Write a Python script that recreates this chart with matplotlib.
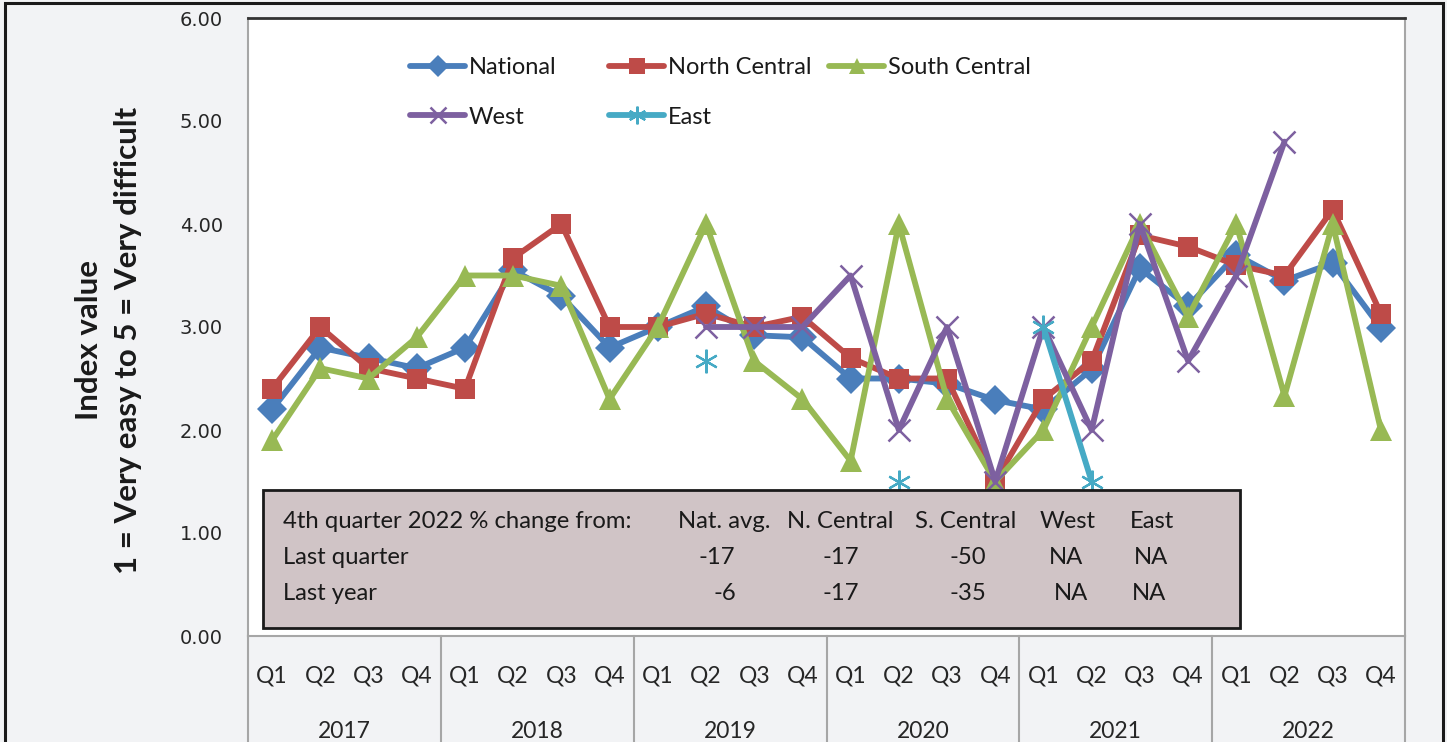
import numpy as np
import matplotlib
matplotlib.use("Agg")
import matplotlib.pyplot as plt
from matplotlib.patches import Rectangle
from matplotlib.lines import Line2D
import matplotlib.transforms as mtransforms

nan = np.nan
years = ["2017", "2018", "2019", "2020", "2021", "2022"]
quarters = ["Q1", "Q2", "Q3", "Q4"]

national = [2.2, 2.8, 2.7, 2.6, 2.8, 3.55, 3.3, 2.8,
            3.0, 3.2, 2.92, 2.9, 2.5, 2.5, 2.45, 2.29,
            2.2, 2.59, 3.57, 3.2, 3.7, 3.45, 3.62, 2.99]
north_central = [2.4, 3.0, 2.6, 2.5, 2.4, 3.67, 4.0, 3.0,
                 3.0, 3.13, 3.0, 3.1, 2.7, 2.5, 2.5, 1.5,
                 2.3, 2.67, 3.89, 3.78, 3.6, 3.5, 4.14, 3.13]
south_central = [1.9, 2.6, 2.5, 2.9, 3.5, 3.5, 3.4, 2.3,
                 3.0, 4.0, 2.67, 2.3, 1.7, 4.0, 2.3, 1.5,
                 2.0, 3.0, 4.0, 3.1, 4.0, 2.33, 4.0, 2.0]
west = [nan, nan, nan, nan, nan, nan, nan, nan,
        nan, 3.0, 3.0, 3.0, 3.5, 2.0, 3.0, 1.5,
        3.0, 2.0, 4.0, 2.67, 3.5, 4.8, nan, nan]
east = [nan, nan, nan, nan, nan, nan, nan, nan,
        nan, 2.67, nan, nan, nan, 1.5, nan, nan,
        3.0, 1.5, nan, nan, nan, nan, nan, nan]

table_header = ["4th quarter 2022 % change from:", "Nat. avg.", "N. Central", "S. Central", "West", "East"]
table_last_quarter = ["Last quarter", "-17", "-17", "-50", "NA", "NA"]
table_last_year = ["Last year", "-6", "-17", "-35", "NA", "NA"]

W, H = 1447, 742
fig = plt.figure(figsize=(W / 100, H / 100), dpi=100)
fig.patch.set_facecolor("#f2f3f5")

L, R, T, B = 248, 1405, 18, 636
ax = fig.add_axes([L / W, 1 - B / H, (R - L) / W, (B - T) / H])
ax.set_facecolor("white")

FONT = "Lato"
x = np.arange(len(national))

series = [
    ("National", national, "#4a7ebb", "D", 15, 0),
    ("North Central", north_central, "#be4b48", "s", 14.5, 0),
    ("South Central", south_central, "#98b954", "^", 16, 0),
    ("West", west, "#7d60a0", "x", 16, 1.8),
    ("East", east, "#46aac5", (6, 2, 0), 17, 1.6),
]
handles = []
for i, (name, vals, col, mk, ms, mew) in enumerate(series):
    kw = dict(color=col, lw=4.2, marker=mk, markersize=ms,
              markerfacecolor=col, markeredgecolor=col, zorder=3 + i,
              solid_capstyle="round", solid_joinstyle="round",
              markeredgewidth=mew)
    ax.plot(x, vals, **kw)
    h = Line2D([], [], **{**kw, "markersize": ms * 0.75})
    handles.append((name, h))

ax.set_xlim(-0.5, len(national) - 0.5)
ax.set_ylim(0, 6)
ax.set_yticks(np.arange(0, 7, 1))
ax.set_yticklabels([f"{v:.2f}" for v in np.arange(0, 7, 1)],
                   fontsize=14, family="DejaVu Sans", color="#262626")
ax.tick_params(axis="y", length=0, pad=18)
ax.set_xticks([])

for side in ["left", "right", "bottom"]:
    ax.spines[side].set_color("#a6a6a6")
    ax.spines[side].set_linewidth(1.5)
ax.spines["top"].set_color("#333333")
ax.spines["top"].set_linewidth(2)

# category axis
trans = mtransforms.blended_transform_factory(ax.transData, ax.transAxes)
q_labels = [q for _ in years for q in quarters]
for i, q in enumerate(q_labels):
    ax.text(i, -0.0647, q, transform=trans, ha="center", va="center",
            fontsize=16.5, family=FONT, color="#262626", clip_on=False)
for j, yr in enumerate(years):
    ax.text(4 * j + 1.5, -0.155, yr, transform=trans, ha="center", va="center",
            fontsize=16.5, family=FONT, color="#262626", clip_on=False)
for j in range(len(years) + 1):
    ax.plot([4 * j - 0.5, 4 * j - 0.5], [0, -0.25], transform=trans,
            color="#a6a6a6", lw=1.5, clip_on=False, zorder=1)

# legend entries placed individually
leg_pos = {"National": (410, 68), "North Central": (609, 68), "South Central": (829, 68),
           "West": (410, 117), "East": (609, 117)}
for name, h in handles:
    px, py = leg_pos[name]
    lg = fig.legend([h], [name], loc="center left",
                    bbox_to_anchor=(px / W, 1 - py / H), bbox_transform=fig.transFigure,
                    frameon=False, borderpad=0, borderaxespad=0,
                    handlelength=2.35, handletextpad=0.15,
                    prop={"family": FONT, "size": 17})
    for t in lg.get_texts():
        t.set_color("#1a1a1a")

# table box
rect = Rectangle((15 / (R - L), 8 / (B - T)), 977 / (R - L), 138 / (B - T),
                 transform=ax.transAxes, facecolor="#d0c4c6", edgecolor="#1a1a1a",
                 lw=2, zorder=10)
ax.add_patch(rect)

row_y = [522, 557, 593]
vals_x = [[None, 724, 840, 966, 1068, 1152],
          [None, 717, 841, 968, 1066, 1151],
          [None, 725, 841, 968, 1071, 1149]]
rows = [table_header, table_last_quarter, table_last_year]
for r, row in enumerate(rows):
    yy = (B - row_y[r]) / (B - T)
    for c, txt in enumerate(row):
        if c == 0:
            ax.text((283 - L) / (R - L), yy, txt, transform=ax.transAxes,
                    ha="left", va="center", fontsize=17.2, family=FONT,
                    color="#1a1a1a", zorder=11)
        else:
            ax.text((vals_x[r][c] - L) / (R - L), yy, txt, transform=ax.transAxes,
                    ha="center", va="center", fontsize=17.2, family=FONT,
                    color="#1a1a1a", zorder=11)

# y axis title
fig.text(89 / W, 1 - 340 / H, "Index value", rotation=90, ha="center", va="center",
         fontsize=22.5, family=FONT, fontweight="bold", color="#1a1a1a")
fig.text(128 / W, 1 - 340 / H, "1 = Very easy to 5 = Very difficult", rotation=90,
         ha="center", va="center", fontsize=22.5, family=FONT, fontweight="bold",
         color="#1a1a1a")

# outer border
fig.patches.append(Rectangle((5 / W, -0.02), 1438 / W, 1.02 - 3 / H,
                             transform=fig.transFigure, fill=False,
                             edgecolor="#1a1a1a", lw=2.2))

fig.savefig("out.png", dpi=100, facecolor=fig.get_facecolor())
